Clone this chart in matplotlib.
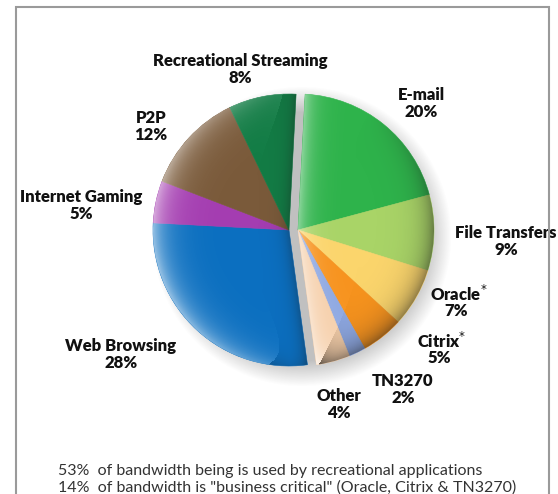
import numpy as np
import matplotlib.pyplot as plt
from matplotlib.patches import Wedge, Rectangle

plt.rcParams['font.family'] = ['Lato', 'DejaVu Sans']

# Bandwidth share per application (clockwise from the top)
labels = ["E-mail", "File Transfers", "Oracle$^{*}$", "Citrix$^{*}$", "TN3270", "Other",
          "Web Browsing", "Internet Gaming", "P2P", "Recreational Streaming"]
shares = [20, 9, 7, 5, 2, 4, 28, 5, 12, 8]
colors = ["#2eb34b", "#a9d467", "#fbd56c", "#f7931e", "#8ea8e2", "#f6cfaa",
          "#0b6fc0", "#a43db1", "#7a5a3a", "#127c45"]
n_right = 6  # business/other apps pulled to the right, recreational to the left

notes = ["53%  of bandwidth being is used by recreational applications",
         "14%  of bandwidth is \"business critical\" (Oracle, Citrix & TN3270)"]

# label positions in pixels (x, y of name line)
label_pos = [(421, 95), (506, 233), (459, 294), (442, 341), (403, 381), (339, 396),
             (121, 346), (81, 197), (151, 118), (240, 61)]

W, H = 558, 494
fig = plt.figure(figsize=(W / 100, H / 100), dpi=100)
ax = fig.add_axes([0, 0, 1, 1])

R = 136
cy = H - 230
centers = [(298, cy), (289, cy)]
start = 87
right_sum = sum(shares[:n_right])
left_sum = sum(shares[n_right:])
split = start - 360 * right_sum / (right_sum + left_sum)

# soft drop shadow
gx, gy = np.meshgrid(np.linspace(0, W, W), np.linspace(0, H, H))
d = np.hypot(gx - 302, gy - (cy - 7))
sh = np.clip((R + 14 - d) / 26, 0, 1) * 0.45
shadow = np.zeros((H, W, 4))
shadow[..., :3] = 0.45
shadow[..., 3] = sh
ax.imshow(shadow, extent=(0, W, 0, H), origin='lower', zorder=1, interpolation='bilinear')

# right group
w1, _ = ax.pie(shares[:n_right] + [left_sum], colors=colors[:n_right] + ['none'],
               startangle=start, counterclock=False, radius=R, center=centers[0],
               wedgeprops=dict(linewidth=0.4))
w1[-1].set_visible(False)
# left group
w2, _ = ax.pie([right_sum] + shares[n_right:], colors=['none'] + colors[n_right:],
               startangle=start, counterclock=False, radius=R, center=centers[1],
               wedgeprops=dict(linewidth=0.4))
w2[0].set_visible(False)
for w in list(w1) + list(w2):
    w.set_edgecolor(w.get_facecolor())
    w.set_zorder(2)


def ray_dist(u, v, ang):
    a = np.deg2rad(ang)
    proj = u * np.cos(a) + v * np.sin(a)
    perp = np.abs(u * np.sin(a) - v * np.cos(a))
    return np.where(proj > 0, perp, np.hypot(u, v))


def shade(c, t1, t2, left_group):
    cx, cyy = c
    xs = np.linspace(cx - R, cx + R, 2 * R)
    ys = np.linspace(cyy - R, cyy + R, 2 * R)
    X, Y = np.meshgrid(xs, ys)
    u, v = X - cx, Y - cyy
    rho = np.hypot(u, v) + 1e-6
    d_rim = np.clip(R - rho, 0, None)
    d_split = np.minimum(ray_dist(u, v, start), ray_dist(u, v, split))
    img = np.zeros(X.shape + (4,))
    if left_group:
        white = 0.55 * np.exp(-d_rim / 14) * np.clip(-u / rho, 0, 1) ** 0.8
        dark = 0.3 * np.exp(-d_split / 7) + 0.12 * np.exp(-d_rim / 8) * np.clip(-v / rho, 0, 1)
    else:
        white = 0.45 * np.exp(-d_split / 10)
        dark = 0.45 * np.exp(-d_rim / 12) * np.clip((u - 0.6 * v) / rho, 0, 1)
    alpha = np.clip(white + dark, 0, 0.8)
    tone = np.where(white > dark, 1.0, 0.1)
    img[..., 0] = tone
    img[..., 1] = tone
    img[..., 2] = tone
    img[..., 3] = alpha
    im = ax.imshow(img, extent=(cx - R, cx + R, cyy - R, cyy + R), origin='lower',
                   zorder=3, interpolation='bilinear')
    clip = Wedge(c, R, t1, t2, transform=ax.transData)
    im.set_clip_path(clip)


shade(centers[0], split, start, False)
shade(centers[1], start, split + 360, True)

for name, val, (x, y) in zip(labels, shares, label_pos):
    ax.text(x, H - y, name, ha='center', va='center', fontsize=12, fontweight='heavy', color='#111111')
    ax.text(x if '*' not in name else x - 3, H - y - 17, f"{val}%", ha='center', va='center',
            fontsize=12, fontweight='heavy', color='#111111')

ax.text(58, H - 471, notes[0], ha='left', va='center', fontsize=11.5, color='#333333')
ax.text(58, H - 488, notes[1], ha='left', va='center', fontsize=11.5, color='#333333')

ax.add_patch(Rectangle((16, -20), 533, H - 7 + 20, fill=False, edgecolor='#9a9a9a', linewidth=1.5, zorder=5))

ax.set_xlim(0, W)
ax.set_ylim(0, H)
ax.set_aspect('auto')
ax.axis('off')
fig.savefig('out.png', dpi=100)
